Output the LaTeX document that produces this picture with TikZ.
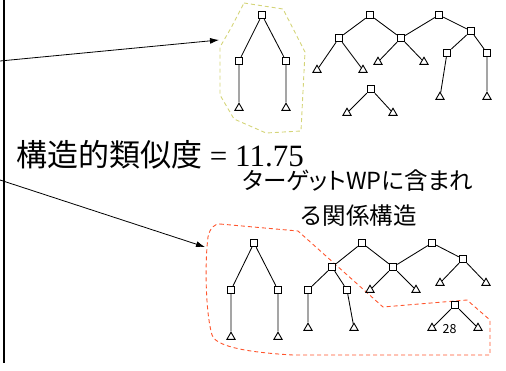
\documentclass[tikz,border=0pt]{standalone}
\usepackage{fontspec}
\setmainfont{Liberation Serif}
\newfontfamily\jp{Noto Sans CJK JP}
\newfontfamily\jpp[RawFeature=+palt]{Noto Sans CJK JP}
\usetikzlibrary{arrows.meta,shapes.geometric}
\definecolor{ygreen}{RGB}{212,212,120}
\definecolor{rorange}{RGB}{255,85,45}
\begin{document}
\begin{tikzpicture}[x=1pt,y=-1pt,
  sq/.style={draw,fill=white,rectangle,minimum size=7.5pt,inner sep=0pt,line width=0.9pt},
  tri/.style={draw,fill=white,regular polygon,regular polygon sides=3,minimum size=9.5pt,inner sep=0pt,line width=0.9pt},
  edge/.style={line width=0.85pt},
  arr/.style={line width=0.8pt,-{Latex[length=9pt,width=6pt]}},
  hull/.style={dashed,dash pattern=on 4pt off 3pt,line width=0.9pt}]
\useasboundingbox (0,0) rectangle (506,370);
% left bar
\draw[line width=2.2pt] (4,0) -- (4,363);
% hulls
\draw[hull,ygreen] (244,3) -- (283,9) -- (305,52) -- (301,131) -- (266,133) -- (234,119) -- (220,95) -- (220,47) -- (231,28) -- cycle;
\draw[hull,rorange] (220,224) -- (298,231) -- (383,307) -- (467,300) -- (490,320) -- (490,355) -- (293,355) .. controls (240,352) and (215,345) .. (212,335) .. controls (205,310) and (205,260) .. (208,237) .. controls (210,228) and (214,224) .. (220,224);
% top-left tree
\node[sq] (a1) at (262,15) {};
\node[sq] (a2) at (239,61) {};
\node[sq] (a3) at (286,61) {};
\node[tri] (a4) at (239,108) {};
\node[tri] (a5) at (286,108) {};
\draw[edge] (a1)--(a2) (a1)--(a3) (a2)--(a4) (a3)--(a5);
% top middle trees
\node[sq] (b1) at (370,15) {};
\node[sq] (b2) at (339,38) {};
\node[tri] (b3) at (317,70) {};
\node[tri] (b4) at (363,70) {};
\node[sq] (b5) at (401,38) {};
\node[tri] (b6) at (378,62) {};
\node[tri] (b7) at (424,62) {};
\node[sq] (b8) at (439,15) {};
\node[sq] (b9) at (471,31) {};
\node[sq] (b10) at (447,53) {};
\node[sq] (b11) at (487,53) {};
\node[tri] (b12) at (440,97) {};
\node[tri] (b13) at (487,97) {};
\draw[edge] (b1)--(b2) (b1)--(b5) (b2)--(b3) (b2)--(b4) (b5)--(b6) (b5)--(b7)
  (b8)--(b5) (b8)--(b9) (b9)--(b10) (b9)--(b11) (b10)--(b12) (b11)--(b13);
\node[sq] (c1) at (371,89) {};
\node[tri] (c2) at (347,113) {};
\node[tri] (c3) at (393,113) {};
\draw[edge] (c1)--(c2) (c1)--(c3);
% bottom trees
\node[sq] (d1) at (254,243) {};
\node[sq] (d2) at (231,290) {};
\node[sq] (d3) at (278,290) {};
\node[tri] (d4) at (231,337) {};
\node[tri] (d5) at (278,337) {};
\draw[edge] (d1)--(d2) (d1)--(d3) (d2)--(d4) (d3)--(d5);
\node[sq] (e1) at (362,243) {};
\node[sq] (e2) at (332,267) {};
\node[sq] (e3) at (308,290) {};
\node[sq] (e4) at (347,290) {};
\node[tri] (e5) at (308,328) {};
\node[tri] (e6) at (354,328) {};
\node[sq] (e7) at (393,267) {};
\node[tri] (e8) at (370,290) {};
\node[tri] (e9) at (416,290) {};
\node[sq] (e10) at (432,243) {};
\node[sq] (e11) at (463,259) {};
\node[tri] (e12) at (440,283) {};
\node[tri] (e13) at (486,283) {};
\draw[edge] (e1)--(e2) (e1)--(e7) (e2)--(e3) (e2)--(e4) (e3)--(e5) (e4)--(e6)
  (e7)--(e8) (e7)--(e9) (e10)--(e7) (e10)--(e11) (e11)--(e12) (e11)--(e13);
\node[sq] (f1) at (455,305) {};
\node[tri] (f2) at (432,328) {};
\node[tri] (f3) at (478,328) {};
\draw[edge] (f1)--(f2) (f1)--(f3);
\node[font=\jp\fontsize{12.5}{12.5}\selectfont,inner sep=0pt] (pg) at (449.5,329.5) {28};
% texts
\node[anchor=base west,inner sep=0pt,font=\fontsize{31}{31}\selectfont] (title) at (16,166) {{\jp 構造的類似度} = 11.75};
\node[align=center,inner sep=0pt,font=\fontsize{23.5}{35}\selectfont] (tgt) at (358,198) {{\jpp ターゲットWPに含まれ}\\{\jp る関係構造}};
% arrows
\coordinate (s1) at (0,61);
\coordinate (s2) at (0,180);
\coordinate (t1) at (219,40);
\coordinate (t2) at (205,247);
\draw[arr] (s1) -- (t1);
\draw[arr] (s2) -- (t2);
\end{tikzpicture}
\end{document}
